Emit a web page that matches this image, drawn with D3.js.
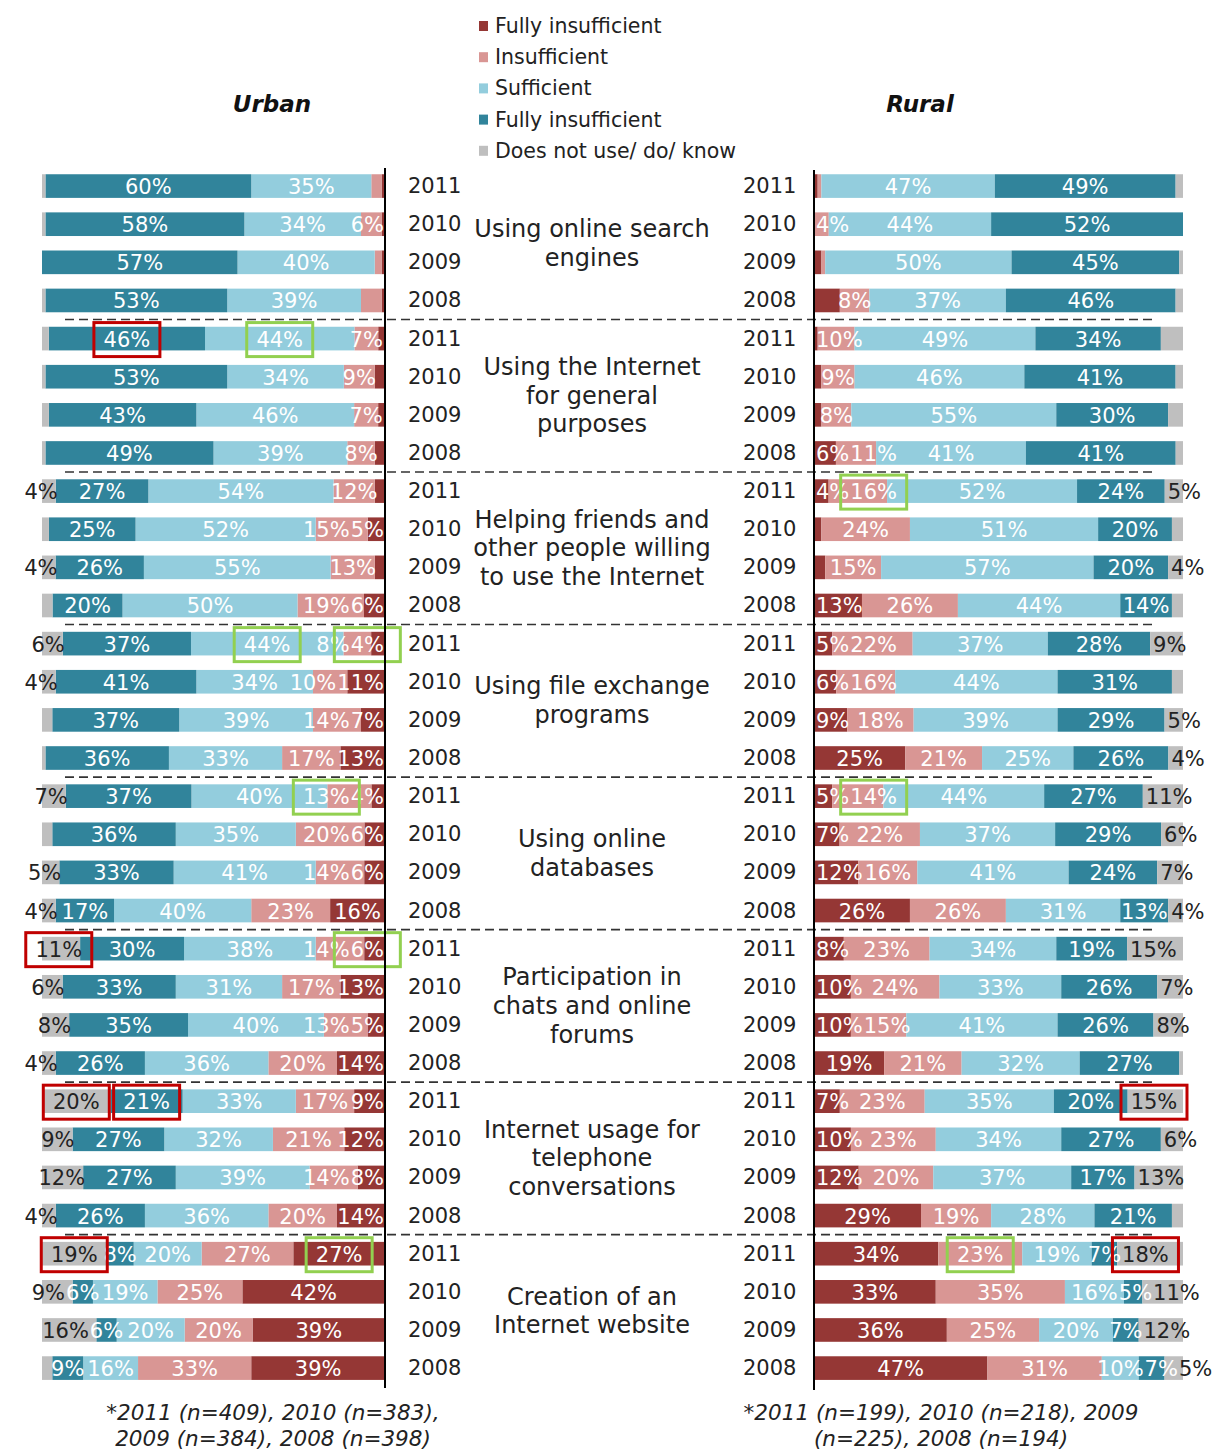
<!DOCTYPE html>
<html>
<head>
<meta charset="utf-8">
<script src="https://cdn.jsdelivr.net/npm/d3@7"></script>
<style>
body { margin: 0; background: #fff; }
svg { display: block; font-family: 'DejaVu Sans', Verdana, sans-serif; }
</style>
</head>
<body>
<script>
// rows go group by group, years 2011..2008 inside each group
var years = ['2011', '2010', '2009', '2008'];
var categories = [
  ['Using online search', 'engines'],
  ['Using the Internet', 'for general', 'purposes'],
  ['Helping friends and', 'other people willing', 'to use the Internet'],
  ['Using file exchange', 'programs'],
  ['Using online', 'databases'],
  ['Participation in', 'chats and online', 'forums'],
  ['Internet usage for', 'telephone', 'conversations'],
  ['Creation of an', 'Internet website']
];
var keys = ['fi', 'ins', 'suf', 'fs', 'na'];
var legendLabels = ['Fully insufficient', 'Insufficient', 'Sufficient', 'Fully insufficient', 'Does not use/ do/ know'];

var urbanFI  = [1,1,1,1, 2,3,2,3, 3,5,3,6, 4,11,7,13, 4,6,6,16, 6,13,5,14, 9,12,8,14, 27,42,39,39];
var urbanIns = [3,6,2,6, 7,9,7,8, 12,15,13,19, 8,10,14,17, 13,20,14,23, 14,17,13,20, 17,21,14,20, 27,25,20,33];
var urbanSuf = [35,34,40,39, 44,34,46,39, 54,52,55,50, 44,34,39,33, 40,35,41,40, 38,31,40,36, 33,32,39,36, 20,19,20,16];
var urbanFS  = [60,58,57,53, 46,53,43,49, 27,25,26,20, 37,41,37,36, 37,36,33,17, 30,33,35,26, 21,27,27,26, 8,6,6,9];
var urbanNA  = [1,1,0,1, 2,1,2,1, 4,2,4,3, 6,4,3,1, 7,3,5,4, 11,6,8,4, 20,9,12,4, 19,9,16,3];

var ruralFI  = [1,0,2,7, 1,2,2,6, 4,2,3,13, 5,6,9,25, 5,7,12,26, 8,10,10,19, 7,10,12,29, 34,33,36,47];
var ruralIns = [1,4,1,8, 10,9,8,11, 16,24,15,26, 22,16,18,21, 14,22,16,26, 23,24,15,21, 23,23,20,19, 23,35,25,31];
var ruralSuf = [47,44,50,37, 49,46,55,41, 52,51,57,44, 37,44,39,25, 44,37,41,31, 34,33,41,32, 35,34,37,28, 19,16,20,10];
var ruralFS  = [49,52,45,46, 34,41,30,41, 24,20,20,14, 28,31,29,26, 27,29,24,13, 19,26,26,27, 20,27,17,21, 7,5,7,7];
var ruralNA  = [2,0,1,2, 6,2,4,2, 5,3,4,3, 9,3,5,4, 11,6,7,4, 15,7,8,1, 15,6,13,3, 18,11,12,5];

// labels the original leaves out
var hiddenLabels = ['urban-3-ins', 'rural-3-fi', 'rural-4-na', 'rural-6-na'];
// boxes drawn round some labels
var redBoxes = ['urban-4-fs', 'urban-20-na', 'urban-24-na', 'urban-24-fs', 'urban-28-na', 'rural-24-na', 'rural-28-na'];
var greenBoxes = ['urban-4-suf', 'urban-12-suf', 'urban-12-fi', 'urban-16-ins', 'urban-20-fi', 'urban-28-fi',
                  'rural-8-ins', 'rural-16-ins', 'rural-28-ins'];

var footUrban = ['*2011 (n=409), 2010 (n=383),', '2009 (n=384), 2008 (n=398)'];
var footRural = ['*2011 (n=199), 2010 (n=218), 2009', '(n=225), 2008 (n=194)'];

var colors = {fi: '#953735', ins: '#d99694', suf: '#93cddd', fs: '#31849b', na: '#bfbfbf'};

var W = 1227, H = 1449;
var svg = d3.select('body').append('svg')
   .attr('width', W)
   .attr('height', H);
svg.append('rect').attr('width', W).attr('height', H).attr('fill', '#fff');

var rowIds = d3.range(years.length * categories.length);
var step = 38.13;
var y = d3.scaleBand()
   .domain(rowIds)
   .range([167, 167 + rowIds.length * step])
   .paddingInner(0.38)
   .paddingOuter(0.19);

var xU = d3.scaleLinear().domain([0, 1]).range([385, 42]);
var xR = d3.scaleLinear().domain([0, 1]).range([814, 1183]);

function table(fi, ins, suf, fs, na) {
  return rowIds.map(function(i) {
    return {row: i, fi: fi[i], ins: ins[i], suf: suf[i], fs: fs[i], na: na[i]};
  });
}

var stack = d3.stack().keys(keys).offset(d3.stackOffsetExpand);

// dashed separators between groups
d3.range(1, categories.length).forEach(function(k) {
  var yy = y(k * 4) - (step - y.bandwidth()) / 2;
  svg.append('line')
     .attr('x1', 65).attr('x2', 1155)
     .attr('y1', yy).attr('y2', yy)
     .attr('stroke', '#333')
     .attr('stroke-width', 1.6)
     .attr('stroke-dasharray', '9,5');
});

function drawSide(name, data, x) {
  var series = stack(data);
  var g = svg.append('g').attr('class', name);
  var layer = g.selectAll('g.layer')
     .data(series)
     .join('g')
       .attr('class', 'layer')
       .attr('fill', function(s) { return colors[s.key]; });
  layer.selectAll('rect')
     .data(function(s) { return s; })
     .join('rect')
       .attr('x', function(d) { return Math.min(x(d[0]), x(d[1])); })
       .attr('width', function(d) { return Math.abs(x(d[1]) - x(d[0])); })
       .attr('y', function(d) { return y(d.data.row); })
       .attr('height', y.bandwidth());

  series.forEach(function(s) {
    var pts = s.filter(function(d) {
      var id = name + '-' + d.data.row + '-' + s.key;
      return d.data[s.key] >= 4 && hiddenLabels.indexOf(id) < 0;
    });
    g.selectAll(null)
       .data(pts)
       .join('text')
         .attr('data-id', function(d) { return name + '-' + d.data.row + '-' + s.key; })
         .attr('y', function(d) { return y(d.data.row) + y.bandwidth() / 2 + 1; })
         .attr('dominant-baseline', 'central')
         .attr('font-size', 21)
         .attr('fill', s.key == 'na' ? '#222' : '#fff')
         .attr('text-anchor', function(d) {
            if (s.key != 'na') return 'middle';
            if (name == 'urban') return d.data.na < 15 ? 'end' : 'middle';
            return 'start';
         })
         .attr('x', function(d) {
            if (s.key != 'na') return x((d[0] + d[1]) / 2);
            if (name == 'urban') return d.data.na < 15 ? x(d[0]) + 2 : x((d[0] + d[1]) / 2);
            return x(d[0]) + 3;
         })
         .text(function(d) { return d.data[s.key] + '%'; });
  });

  // push labels outward from the axis so they don't run into each other
  rowIds.forEach(function(r) {
    var limit = name == 'urban' ? 384 : 816;
    keys.forEach(function(k) {
      var t = g.select('text[data-id="' + name + '-' + r + '-' + k + '"]');
      if (t.empty()) return;
      var b = t.node().getBBox();
      var x0 = +t.attr('x');
      if (name == 'urban') {
        var right = b.x + b.width;
        if (right > limit) {
          t.attr('x', x0 - (right - limit));
          b.x -= right - limit;
        }
        limit = b.x - 1;
      } else {
        if (b.x < limit) {
          t.attr('x', x0 + (limit - b.x));
          b.x = limit;
        }
        limit = b.x + b.width + 1;
      }
    });
  });
}

drawSide('urban', table(urbanFI, urbanIns, urbanSuf, urbanFS, urbanNA), xU);
drawSide('rural', table(ruralFI, ruralIns, ruralSuf, ruralFS, ruralNA), xR);

function box(id, col) {
  var node = svg.select('text[data-id="' + id + '"]').node();
  if (!node) return;
  var b = node.getBBox();
  var cx = b.x + b.width / 2, cy = b.y + b.height / 2;
  svg.append('rect')
     .attr('x', cx - 33).attr('y', cy - 17)
     .attr('width', 66).attr('height', 34)
     .attr('fill', 'none')
     .attr('stroke', col)
     .attr('stroke-width', 3);
}
redBoxes.forEach(function(id) { box(id, '#c00000'); });
greenBoxes.forEach(function(id) { box(id, '#92d050'); });

// axis lines
svg.append('line').attr('x1', 385).attr('x2', 385).attr('y1', 168).attr('y2', 1388)
   .attr('stroke', '#000').attr('stroke-width', 2);
svg.append('line').attr('x1', 814).attr('x2', 814).attr('y1', 170).attr('y2', 1390)
   .attr('stroke', '#000').attr('stroke-width', 2);

// year labels
rowIds.forEach(function(i) {
  var cy = y(i) + y.bandwidth() / 2;
  [408, 743].forEach(function(px) {
    svg.append('text')
       .attr('x', px).attr('y', cy)
       .attr('dominant-baseline', 'central')
       .attr('font-size', 21)
       .attr('fill', '#222')
       .text(years[i % 4]);
  });
});

// category labels
categories.forEach(function(lines, k) {
  var cy = (y(k * 4 + 1) + y(k * 4 + 2) + y.bandwidth()) / 2;
  var lh = 28.7;
  lines.forEach(function(t, j) {
    svg.append('text')
       .attr('x', 592)
       .attr('y', cy + (j - (lines.length - 1) / 2) * lh)
       .attr('text-anchor', 'middle')
       .attr('dominant-baseline', 'central')
       .attr('font-size', 24)
       .attr('fill', '#222')
       .text(t);
  });
});

// titles
[['Urban', 272], ['Rural', 920]].forEach(function(t) {
  svg.append('text')
     .attr('x', t[1]).attr('y', 104)
     .attr('text-anchor', 'middle')
     .attr('dominant-baseline', 'central')
     .attr('font-size', 23)
     .attr('font-weight', 'bold')
     .attr('font-style', 'italic')
     .attr('fill', '#111')
     .text(t[0]);
});

// legend
var leg = svg.append('g').selectAll('g')
   .data(keys)
   .join('g')
     .attr('transform', function(d, i) { return 'translate(479,' + (26 + i * 31.2) + ')'; });
leg.append('rect')
   .attr('x', 0).attr('y', -5)
   .attr('width', 9).attr('height', 10)
   .attr('fill', function(d) { return colors[d]; });
leg.append('text')
   .attr('x', 16)
   .attr('dominant-baseline', 'central')
   .attr('font-size', 20.5)
   .attr('fill', '#222')
   .text(function(d, i) { return legendLabels[i]; });

// footnotes
[[footUrban, 273], [footRural, 941]].forEach(function(f) {
  f[0].forEach(function(t, j) {
    svg.append('text')
       .attr('x', f[1]).attr('y', 1412 + j * 26)
       .attr('text-anchor', 'middle')
       .attr('dominant-baseline', 'central')
       .attr('font-size', 21.5)
       .attr('font-style', 'italic')
       .attr('fill', '#222')
       .text(t);
  });
});
</script>
</body>
</html>
